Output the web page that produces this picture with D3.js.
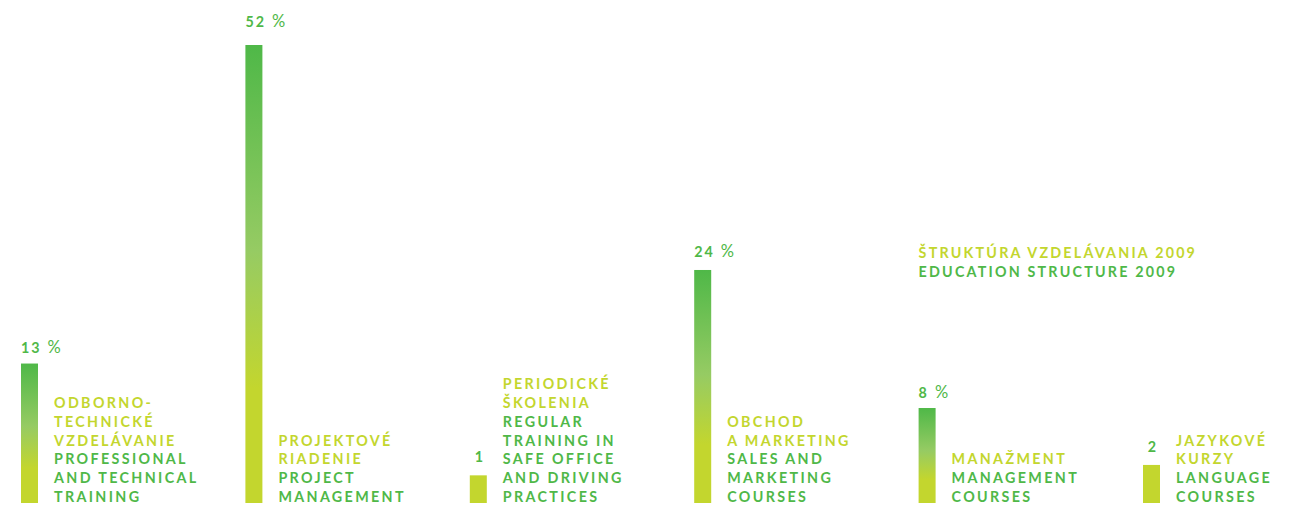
<!DOCTYPE html>
<html>
<head>
<meta charset="utf-8">
<script src="https://cdn.jsdelivr.net/npm/d3@7"></script>
<style>
    body { margin: 0; background: #fff; }
    svg text { font-family: Lato, "Open Sans", sans-serif; font-weight: 700; font-size: 14.3px; letter-spacing: 2.35px; }
</style>
</head>
<body>
<div id="chart"></div>
<script>
// Data
var categories = ["odborno", "projekt", "periodicke", "obchod", "manazment", "jazykove"];
var values = [13, 52, 1, 24, 8, 2];
var valueLabels = ["13", "52", "1", "24", "8", "2"];
var showPercent = [true, true, false, true, true, false];
var skLabels = [
    ["ODBORNO-", "TECHNICKÉ", "VZDELÁVANIE"],
    ["PROJEKTOVÉ", "RIADENIE"],
    ["PERIODICKÉ", "ŠKOLENIA"],
    ["OBCHOD", "A MARKETING"],
    ["MANAŽMENT"],
    ["JAZYKOVÉ", "KURZY"]
];
var enLabels = [
    ["PROFESSIONAL", "AND TECHNICAL", "TRAINING"],
    ["PROJECT", "MANAGEMENT"],
    ["REGULAR", "TRAINING IN", "SAFE OFFICE", "AND DRIVING", "PRACTICES"],
    ["SALES AND", "MARKETING", "COURSES"],
    ["MANAGEMENT", "COURSES"],
    ["LANGUAGE", "COURSES"]
];
var titleLines = ["ŠTRUKTÚRA VZDELÁVANIA 2009", "EDUCATION STRUCTURE 2009"];

var lime = "#c3d62e";
var green = "#4fb848";

var svgWidth = 1304;
var svgHeight = 510;
var baseline = 503;
var barWidth = 17;
var lineHeight = 18.8;

var svg = d3.select("#chart")
    .append("svg")
    .attr("width", svgWidth)
    .attr("height", svgHeight);

// gradient for the bars
var grad = svg.append("defs").append("linearGradient")
    .attr("id", "barGrad")
    .attr("x1", 0).attr("y1", 0)
    .attr("x2", 0).attr("y2", 1);
grad.append("stop").attr("offset", "0%").attr("stop-color", green);
grad.append("stop").attr("offset", "45%").attr("stop-color", "#96cb63");
grad.append("stop").attr("offset", "75%").attr("stop-color", lime);
grad.append("stop").attr("offset", "100%").attr("stop-color", lime);

// scales
var xScale = d3.scaleBand()
    .domain(categories)
    .range([21, 21 + 6 * 224.4]);

var hScale = d3.scalePow()
    .exponent(0.92)
    .domain([0, 52])
    .range([16, 458]);

var groups = svg.selectAll("g.item")
    .data(categories)
    .enter()
    .append("g")
    .attr("class", "item");

groups.append("rect")
    .attr("x", d => xScale(d))
    .attr("y", (d, i) => baseline - hScale(values[i]))
    .attr("width", barWidth)
    .attr("height", (d, i) => hScale(values[i]))
    .attr("fill", (d, i) => values[i] >= 5 ? "url(#barGrad)" : lime);

// value labels
var vLabel = groups.append("text")
    .attr("x", (d, i) => showPercent[i] ? xScale(d) : xScale(d) + barWidth / 2 + 1.5)
    .attr("y", (d, i) => baseline - hScale(values[i]) - (showPercent[i] ? 8 + values[i] * 0.2 : 13))
    .attr("text-anchor", (d, i) => showPercent[i] ? "start" : "middle")
    .attr("fill", green)
    .style("letter-spacing", "2px")
    .text((d, i) => valueLabels[i]);

vLabel.filter((d, i) => showPercent[i])
    .append("tspan")
    .attr("dx", 6)
    .style("font-weight", 400)
    .style("font-size", "16.5px")
    .text("%");

// category labels, stacked up from the bottom
groups.each(function(d, i) {
    var lines = skLabels[i].map(t => ({ t: t, c: lime }))
        .concat(enLabels[i].map(t => ({ t: t, c: green })));
    var n = lines.length;
    d3.select(this).selectAll("text.cat")
        .data(lines)
        .enter()
        .append("text")
        .attr("class", "cat")
        .attr("x", xScale(d) + 33)
        .attr("y", (l, j) => baseline - 1 - (n - 1 - j) * lineHeight)
        .attr("fill", l => l.c)
        .text(l => l.t);
});

// title
svg.selectAll("text.title")
    .data(titleLines)
    .enter()
    .append("text")
    .attr("class", "title")
    .attr("x", xScale("manazment"))
    .attr("y", (d, i) => 258 + i * 19)
    .attr("fill", (d, i) => i === 0 ? lime : green)
    .style("letter-spacing", "2.2px")
    .text(d => d);
</script>
</body>
</html>
